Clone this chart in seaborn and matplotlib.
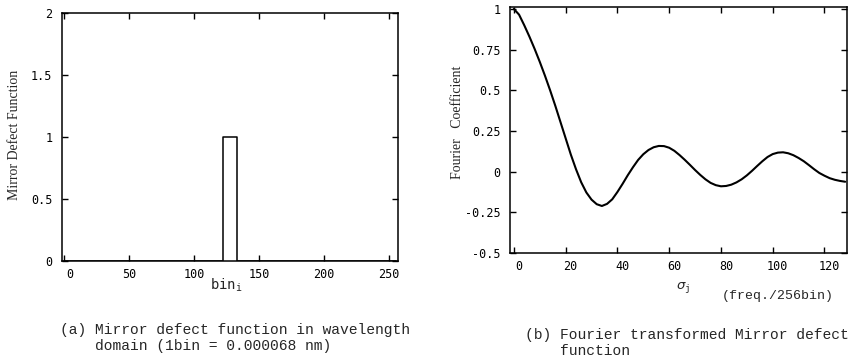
import numpy as np
import pandas as pd
import matplotlib
matplotlib.use("Agg")
import matplotlib.pyplot as plt
import matplotlib.transforms as mtransforms
import seaborn as sns

# ---- data: panel (a) mirror defect function (rectangular pulse) ----
bin_pos = [0, 122, 122, 133, 133, 255]
defect_val = [0, 0, 1, 1, 0, 0]
a_xticks = [0, 50, 100, 150, 200, 250]
a_xticklabels = ["0", "50", "100", "150", "200", "250"]
a_yticks = [0, 0.5, 1, 1.5, 2]
a_yticklabels = ["0", "0.5", "1", "1.5", "2"]

# ---- data: panel (b) Fourier coefficients ----
sigma = [0, 2, 4, 6, 8, 10, 12, 14, 16, 18, 20, 22, 24, 26, 28, 30, 32, 34, 36, 38,
         40, 42, 44, 46, 48, 50, 52, 54, 56, 58, 60, 62, 64, 66, 68, 70, 72, 74, 76, 78,
         80, 82, 84, 86, 88, 90, 92, 94, 96, 98, 100, 102, 104, 106, 108, 110, 112, 114,
         116, 118, 120, 122, 124, 126, 128]
coef = [1.00, 0.965, 0.90, 0.83, 0.755, 0.675, 0.59, 0.50, 0.405, 0.305, 0.205, 0.105,
        0.015, -0.065, -0.128, -0.172, -0.20, -0.211, -0.198, -0.17, -0.125, -0.075,
        -0.022, 0.027, 0.072, 0.107, 0.133, 0.150, 0.158, 0.157, 0.147, 0.128, 0.102,
        0.073, 0.042, 0.01, -0.02, -0.047, -0.069, -0.083, -0.09, -0.088, -0.08, -0.066,
        -0.047, -0.023, 0.005, 0.035, 0.064, 0.09, 0.108, 0.117, 0.119, 0.113, 0.101,
        0.084, 0.064, 0.04, 0.015, -0.008, -0.025, -0.040, -0.050, -0.057, -0.062]
b_xticks = [0, 20, 40, 60, 80, 100, 120]
b_xticklabels = ["0", "20", "40", "60", "80", "100", "120"]
b_yticks = [-0.5, -0.25, 0, 0.25, 0.5, 0.75, 1]
b_yticklabels = ["-0.5", "-0.25", "0", "0.25", "0.5", "0.75", "1"]

caption_a = "(a) Mirror defect function in wavelength\n    domain (1bin = 0.000068 nm)"
caption_b = "(b) Fourier transformed Mirror defect\n    function"

sns.set_style("ticks")
plt.rcParams["font.family"] = ["DejaVu Sans"]
plt.rcParams["mathtext.fontset"] = "dejavusans"

W, H = 849, 360
fig = plt.figure(figsize=(W / 100, H / 100), dpi=100)

def box(l, t, r, b):
    return [l / W, 1 - b / H, (r - l) / W, (b - t) / H]

ax1 = fig.add_axes(box(62, 13, 398, 261))
ax2 = fig.add_axes(box(510, 7, 847, 253))

df_a = pd.DataFrame({"bin": bin_pos, "val": defect_val})
df_b = pd.DataFrame({"sigma": sigma, "coef": coef})

sns.lineplot(data=df_a, x="bin", y="val", ax=ax1, color="black", lw=1.1,
             sort=False, estimator=None)
sns.lineplot(data=df_b, x="sigma", y="coef", ax=ax2, color="black", lw=1.5,
             sort=False, estimator=None)

tick_font = dict(family="DejaVu Sans Mono", size=8.5)

for ax in (ax1, ax2):
    for s in ax.spines.values():
        s.set_visible(True)
        s.set_linewidth(1.1)
        s.set_color("black")
    ax.tick_params(direction="in", length=4, width=1, top=True, right=True,
                   colors="black")
    ax.tick_params(axis="x", pad=5)
    ax.tick_params(axis="y", pad=7)
    ax.set_xlabel("")
    ax.set_ylabel("")
    ax.grid(False)

ax1.set_xlim(-1.8, 256.9)
ax1.set_ylim(0, 2)
ax1.set_xticks(a_xticks)
ax1.set_xticklabels(a_xticklabels, **tick_font)
ax1.set_yticks(a_yticks)
ax1.set_yticklabels(a_yticklabels, **tick_font)

ax2.set_xlim(-1.5, 128.7)
ax2.set_ylim(-0.5, 1.012)
ax2.set_xticks(b_xticks)
ax2.set_xticklabels(b_xticklabels, **tick_font)
ax2.set_yticks(b_yticks)
ax2.set_yticklabels(b_yticklabels, **tick_font)

# scanned original: the right panel x labels sit a few pixels right of their ticks
shift = mtransforms.ScaledTranslation(5 / 100, 0, fig.dpi_scale_trans)
for lab in ax2.get_xticklabels():
    lab.set_transform(lab.get_transform() + shift)
shift0 = mtransforms.ScaledTranslation(5 / 100, 0, fig.dpi_scale_trans)
lab0 = ax1.get_xticklabels()[0]
lab0.set_transform(lab0.get_transform() + shift0)

def fx(px):
    return px / W

def fy(py):
    return 1 - py / H

serif = "Liberation Serif"
mono = "Liberation Mono"

fig.text(fx(15), fy(135), "Mirror Defect Function", rotation=90, ha="center",
         va="center", family=serif, size=10)
fig.text(fx(457), fy(122), "Fourier   Coefficient", rotation=90, ha="center",
         va="center", family=serif, size=10)

fig.text(fx(226), fy(285), r"$\mathtt{bin}_{\mathtt{i}}$", ha="center", va="center",
         size=10)
fig.text(fx(683), fy(287), r"$\sigma_{\mathtt{j}}$", ha="center", va="center", size=9.5)
fig.text(fx(722), fy(296), "(freq./256bin)", ha="left", va="center",
         family=mono, size=9.5)

fig.text(fx(60), fy(338), caption_a, ha="left", va="center", family=mono,
         size=10.5, linespacing=1.25)
fig.text(fx(525), fy(343), caption_b, ha="left", va="center", family=mono,
         size=10.5, linespacing=1.25)

fig.savefig("out.png", dpi=100)
